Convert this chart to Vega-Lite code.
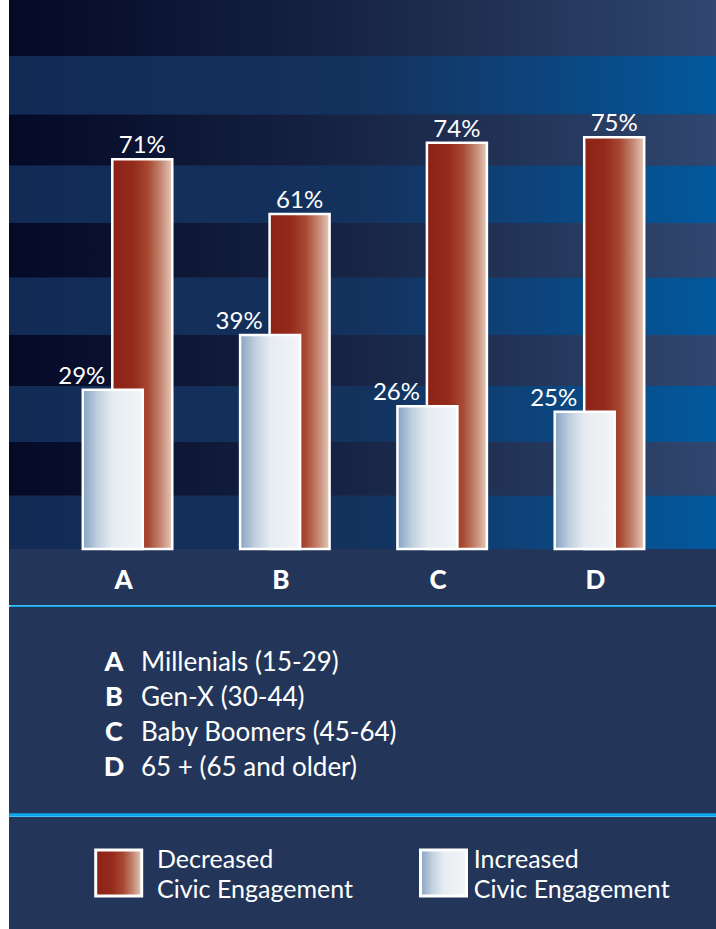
{
  "$schema": "https://vega.github.io/schema/vega-lite/v6.json",
  "background": "#ffffff",
  "padding": {"left": 7, "top": 0, "right": 0, "bottom": 0},
  "spacing": 0,
  "config": {
    "view": {"stroke": null, "fill": "#233659"},
    "font": "Lato",
    "concat": {"spacing": 0}
  },
  "datasets": {
    "bars": [
      {"group": "A", "series": "Increased", "value": 0.29},
      {"group": "A", "series": "Decreased", "value": 0.71},
      {"group": "B", "series": "Increased", "value": 0.39},
      {"group": "B", "series": "Decreased", "value": 0.61},
      {"group": "C", "series": "Increased", "value": 0.26},
      {"group": "C", "series": "Decreased", "value": 0.74},
      {"group": "D", "series": "Increased", "value": 0.25},
      {"group": "D", "series": "Decreased", "value": 0.75}
    ],
    "bands": [
      {"lo": 0, "hi": 0.097, "kind": "blue"},
      {"lo": 0.097, "hi": 0.195, "kind": "dark"},
      {"lo": 0.195, "hi": 0.297, "kind": "blue"},
      {"lo": 0.297, "hi": 0.39, "kind": "dark"},
      {"lo": 0.39, "hi": 0.494, "kind": "blue"},
      {"lo": 0.494, "hi": 0.594, "kind": "dark"},
      {"lo": 0.594, "hi": 0.698, "kind": "blue"},
      {"lo": 0.698, "hi": 0.792, "kind": "dark"},
      {"lo": 0.792, "hi": 0.898, "kind": "blue"},
      {"lo": 0.898, "hi": 1, "kind": "dark"}
    ],
    "groups": [
      {"group": "A", "name": "Millenials (15-29)"},
      {"group": "B", "name": "Gen-X (30-44)"},
      {"group": "C", "name": "Baby Boomers (45-64)"},
      {"group": "D", "name": "65 + (65 and older)"}
    ],
    "legend": [
      {"series": "Decreased", "label": "Decreased\nCivic Engagement"},
      {"series": "Increased", "label": "Increased\nCivic Engagement"}
    ]
  },
  "vconcat": [
    {
      "width": 709,
      "height": 605,
      "layer": [
        {
          "data": {"name": "bands"},
          "transform": [{"filter": "datum.kind === 'dark'"}],
          "mark": {"type": "rect", "fill": {"gradient": "linear", "stops": [{"offset": 0, "color": "#040926"}, {"offset": 0.5, "color": "#182546"}, {"offset": 1, "color": "#30476f"}]}},
          "encoding": {
            "y": {"field": "lo", "type": "quantitative", "scale": {"domain": [-0.102, 1], "nice": false, "zero": false}, "axis": null},
            "y2": {"field": "hi"}
          }
        },
        {
          "data": {"name": "bands"},
          "transform": [{"filter": "datum.kind === 'blue'"}],
          "mark": {"type": "rect", "fill": {"gradient": "linear", "stops": [{"offset": 0, "color": "#112b55"}, {"offset": 0.5, "color": "#14325e"}, {"offset": 0.75, "color": "#0d447c"}, {"offset": 1, "color": "#02599e"}]}},
          "encoding": {
            "y": {"field": "lo", "type": "quantitative", "scale": {"domain": [-0.102, 1], "nice": false, "zero": false}, "axis": null},
            "y2": {"field": "hi"}
          }
        },
        {
          "data": {"name": "bars"},
          "transform": [{"filter": "datum.series === 'Decreased'"}],
          "mark": {"type": "bar", "width": 60, "stroke": "#ffffff", "strokeWidth": 2.5, "fill": {"gradient": "linear", "stops": [{"offset": 0, "color": "#8c2317"}, {"offset": 0.35, "color": "#942a1b"}, {"offset": 0.6, "color": "#a84932"}, {"offset": 0.82, "color": "#c58a75"}, {"offset": 1, "color": "#e6cbbd"}]}},
          "encoding": {
            "x": {
              "field": "group", "type": "nominal",
              "scale": {"domain": ["A", "B", "C", "D"], "paddingInner": 0.625, "paddingOuter": 0.566},
              "axis": {"title": null, "orient": "bottom", "domain": true, "domainColor": "#08a8ea", "domainWidth": 3.5, "offset": 1.5, "ticks": false, "tickSize": 0, "labelAngle": 0, "labelFont": "Lato", "labelFontWeight": 900, "labelFontSize": 26, "labelColor": "#ffffff", "labelBaseline": "middle", "labelPadding": -26, "labelOffset": -4}
            },
            "xOffset": {"field": "series", "type": "nominal", "scale": {"domain": ["Increased", "Decreased"], "paddingInner": 0, "paddingOuter": 0}},
            "y": {"field": "value", "type": "quantitative", "scale": {"domain": [-0.102, 1], "nice": false, "zero": false}, "axis": null},
            "y2": {"datum": 0}
          }
        },
        {
          "data": {"name": "bars"},
          "transform": [{"filter": "datum.series === 'Increased'"}],
          "mark": {"type": "bar", "width": 60, "stroke": "#ffffff", "strokeWidth": 2.5, "fill": {"gradient": "linear", "stops": [{"offset": 0, "color": "#86a3c2"}, {"offset": 0.25, "color": "#c0d0df"}, {"offset": 0.5, "color": "#e6ecf1"}, {"offset": 1, "color": "#f3f5f7"}]}},
          "encoding": {
            "x": {"field": "group", "type": "nominal"},
            "xOffset": {"field": "series", "type": "nominal"},
            "y": {"field": "value", "type": "quantitative", "scale": {"domain": [-0.102, 1], "nice": false, "zero": false}, "axis": null},
            "y2": {"datum": 0}
          }
        },
        {
          "data": {"name": "bars"},
          "transform": [{"filter": "datum.series === 'Decreased'"}],
          "mark": {"type": "text", "color": "#ffffff", "fontSize": 24, "baseline": "alphabetic", "align": "center", "dy": -6},
          "encoding": {
            "x": {"field": "group", "type": "nominal"},
            "xOffset": {"field": "series", "type": "nominal"},
            "y": {"field": "value", "type": "quantitative", "scale": {"domain": [-0.102, 1], "nice": false, "zero": false}, "axis": null},
            "text": {"field": "value", "type": "quantitative", "format": ".0%"}
          }
        },
        {
          "data": {"name": "bars"},
          "transform": [{"filter": "datum.series === 'Increased'"}],
          "mark": {"type": "text", "color": "#ffffff", "fontSize": 24, "baseline": "alphabetic", "align": "center", "dy": -6, "dx": -31},
          "encoding": {
            "x": {"field": "group", "type": "nominal"},
            "xOffset": {"field": "series", "type": "nominal"},
            "y": {"field": "value", "type": "quantitative", "scale": {"domain": [-0.102, 1], "nice": false, "zero": false}, "axis": null},
            "text": {"field": "value", "type": "quantitative", "format": ".0%"}
          }
        }
      ]
    },
    {
      "width": 709,
      "height": 208,
      "layer": [
        {
          "data": {"name": "groups"},
          "mark": {"type": "text", "align": "center", "baseline": "middle", "fontSize": 27, "fontWeight": 900, "color": "#ffffff"},
          "encoding": {
            "y": {"field": "group", "type": "nominal", "scale": {"type": "band", "domain": ["A", "B", "C", "D"], "paddingInner": 0, "paddingOuter": 0.97, "align": 0.566}, "axis": null},
            "x": {"value": 105},
            "text": {"field": "group"}
          }
        },
        {
          "data": {"name": "groups"},
          "mark": {"type": "text", "align": "left", "baseline": "middle", "fontSize": 26, "color": "#ffffff"},
          "encoding": {
            "y": {"field": "group", "type": "nominal", "scale": {"type": "band", "domain": ["A", "B", "C", "D"], "paddingInner": 0, "paddingOuter": 0.97, "align": 0.566}, "axis": null},
            "x": {"value": 132},
            "text": {"field": "name"}
          }
        },
        {
          "data": {"values": [{}]},
          "mark": {"type": "rule", "color": "#08a8ea", "strokeWidth": 3.5},
          "encoding": {"y": {"value": "height"}}
        }
      ]
    },
    {
      "width": 709,
      "height": 112,
      "data": {"name": "legend"},
      "resolve": {"scale": {"x": "independent"}},
      "layer": [
        {
          "transform": [{"filter": "datum.series === 'Decreased'"}],
          "mark": {"type": "square", "size": 2116, "opacity": 1, "stroke": "#ffffff", "strokeWidth": 3, "fill": {"gradient": "linear", "stops": [{"offset": 0, "color": "#8c2317"}, {"offset": 0.35, "color": "#942a1b"}, {"offset": 0.6, "color": "#a84932"}, {"offset": 0.82, "color": "#c58a75"}, {"offset": 1, "color": "#e6cbbd"}]}},
          "encoding": {
            "x": {"field": "series", "type": "nominal", "scale": {"type": "point", "domain": ["Decreased", "Increased"], "range": [109.7, 434.5], "padding": 0}, "axis": null}
          }
        },
        {
          "transform": [{"filter": "datum.series === 'Increased'"}],
          "mark": {"type": "square", "size": 2116, "opacity": 1, "stroke": "#ffffff", "strokeWidth": 3, "fill": {"gradient": "linear", "stops": [{"offset": 0, "color": "#86a3c2"}, {"offset": 0.25, "color": "#c0d0df"}, {"offset": 0.5, "color": "#e6ecf1"}, {"offset": 1, "color": "#f3f5f7"}]}},
          "encoding": {
            "x": {"field": "series", "type": "nominal", "scale": {"type": "point", "domain": ["Decreased", "Increased"], "range": [109.7, 434.5], "padding": 0}, "axis": null}
          }
        },
        {
          "mark": {"type": "text", "align": "left", "baseline": "middle", "lineBreak": "\n", "fontSize": 25, "lineHeight": 30, "color": "#ffffff", "dy": -13},
          "encoding": {
            "x": {"field": "series", "type": "nominal", "scale": {"type": "point", "domain": ["Decreased", "Increased"], "range": [148, 464.7], "padding": 0}, "axis": null},
            "text": {"field": "label"}
          }
        }
      ]
    }
  ]
}
